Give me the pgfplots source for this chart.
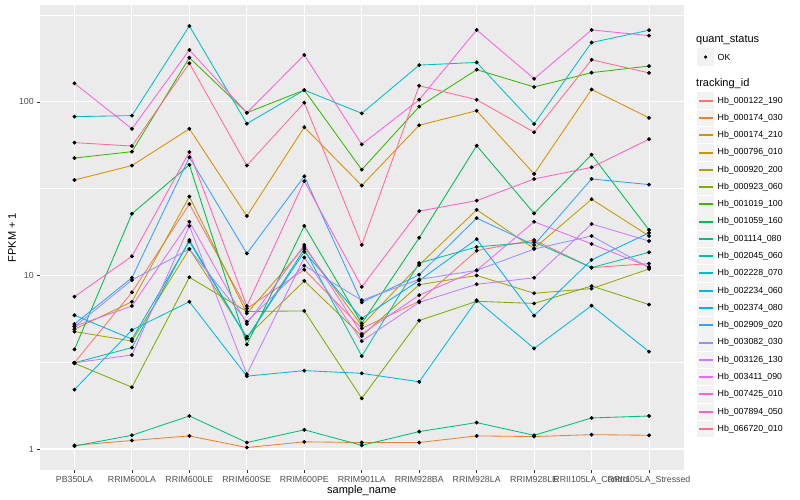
\documentclass[border=0pt]{standalone}
\usepackage{fontspec}
\setmainfont{Liberation Sans}
\usepackage{pgfplots}
\usepackage{pgfplotstable}
\pgfplotsset{compat=1.18}

% ggplot hue palette, 20 levels, legend order
\definecolor{c1}{HTML}{F8766D}
\definecolor{c2}{HTML}{EA8331}
\definecolor{c3}{HTML}{D89000}
\definecolor{c4}{HTML}{C09B00}
\definecolor{c5}{HTML}{A3A500}
\definecolor{c6}{HTML}{7CAE00}
\definecolor{c7}{HTML}{39B600}
\definecolor{c8}{HTML}{00BB4E}
\definecolor{c9}{HTML}{00BF7D}
\definecolor{c10}{HTML}{00C1A3}
\definecolor{c11}{HTML}{00BFC4}
\definecolor{c12}{HTML}{00BAE0}
\definecolor{c13}{HTML}{00B0F6}
\definecolor{c14}{HTML}{35A2FF}
\definecolor{c15}{HTML}{9590FF}
\definecolor{c16}{HTML}{C77CFF}
\definecolor{c17}{HTML}{E76BF3}
\definecolor{c18}{HTML}{FA62DB}
\definecolor{c19}{HTML}{FF62BC}
\definecolor{c20}{HTML}{FF6C91}
\definecolor{panel}{HTML}{EBEBEB}
\definecolor{keyfill}{HTML}{F2F2F2}
\definecolor{grey30}{HTML}{4D4D4D}
\definecolor{grey20}{HTML}{333333}

% rows: samples 0..10, columns: tracking ids in legend order
\pgfplotstableread{
x  s1    s2   s3    s4    s5    s6    s7    s8    s9   s10   s11   s12   s13   s14   s15   s16   s17   s18   s19   s20
0  3.14  1.05 35.5  4.9   4.75  3.12  47.5  3.75  1.04 3.14  82.3  2.2   5.9   5.25  5.07  3.14  5.1   128   7.55  58.3
1  8.0   1.12 43    7.06  4.19  2.27  51.7  22.7  1.2  3.84  83.4  4.85  4.3   9.7   9.4   3.48  6.67  70    12.9  55.7
2  25.8  1.19 70    28.5  14.2  9.76  180   43.4  1.55 16    274   7.06  15.7  48    14.2  19.3  20.4  199.5 51.5  167
3  6.45  1.02 22    6.05  4.44  6.2   86.7  4.0   1.09 4.34  75    2.63  4.34  13.4  5.42  2.7   5.25  86.7  6.67  43
4  10.8  1.1  71.5  14.6  9.3   6.25  117   19.3  1.29 14.2  117   2.83  13.7  37.3  11.4  12.7  15    186.6 35    99
5  4.96  1.09 33    5.14  4.48  1.96  40.7  5.3   1.05 3.43  86    2.73  5.66  7.0   7.2   4.19  4.6   57    8.6   15
6  7.1   1.09 73.4  11.5  8.85  5.5   94    16.5  1.26 11.8  163   2.44  9.36  10.1  9.5   7.0   7.7   103   23.5  124
7  13.9  1.19 89    23.9  10    7.1   153.5 56    1.42 14.6  169   7.2   16.2  21.4  10.7  8.9   10.7  260   27    103
8  16    1.18 38.5  14.3  7.9   6.9   122   22.8  1.2  15.6  74.7  3.8   5.87  15    14.2  9.7   20.4  136   36    66.9
9  11.1  1.21 118   27.5  8.4   8.7   147.5 49.7  1.51 11.1  220   6.7   12.3  36    16.9  19.8  15.2  260   42    175
10 11.7  1.2  81    16.9  10.9  6.8   161   18.3  1.55 13.6  259   3.64  17.6  33.4  11.1  15.8  11.2  241   61    147
}\fpkm

\begin{document}
\begin{tikzpicture}[x=1pt,y=1pt]
\useasboundingbox (0,0) rectangle (800,500);
\begin{axis}[
  at={(40pt,30pt)}, anchor=south west,
  scale only axis, width=643.5pt, height=465pt,
  xmin=-0.6, xmax=10.6,
  ymode=log, ymin=0.757, ymax=362,
  axis background/.style={fill=panel},
  axis line style={draw=none},
  tick pos=left,
  xtick={0,...,10},
  xticklabels={PB350LA,RRIM600LA,RRIM600LE,RRIM600SE,RRIM600PE,RRIM901LA,RRIM928BA,RRIM928LA,RRIM928LE,RRII105LA\_Control,RRII105LA\_Stressed},
  ytick={1,10,100}, yticklabels={1,10,100},
  minor ytick={3.1623,31.623,316.23},
  xmajorgrids, ymajorgrids, yminorgrids,
  major grid style={white, line width=1.07pt},
  minor grid style={white, line width=0.53pt},
  tick align=outside, major tick length=2.75pt, minor tick length=0pt,
  tick style={grey20, line width=0.53pt},
  ticklabel style={font=\fontsize{8.8}{10}\selectfont, text=grey30},
  xlabel={sample\_name}, ylabel={FPKM + 1},
  label style={font=\fontsize{11}{13}\selectfont},
  xlabel style={at={(axis description cs:0.5,-0.0452)}, anchor=center},
  ylabel style={at={(axis description cs:-0.0435,0.5)}, anchor=center},
]
\pgfplotsinvokeforeach{1,...,20}{
  \addplot[color=c#1, line width=0.85pt] table[x=x, y=s#1] {\fpkm};
}
\pgfplotsinvokeforeach{1,...,20}{
  \addplot[only marks, mark=*, mark size=1.75pt, black] table[x=x, y=s#1] {\fpkm};
}
\end{axis}

% legend, ggplot style
\node[anchor=west, inner sep=0, font=\fontsize{11}{13}\selectfont] at (696,460) {quant\_status};
\fill[keyfill] (697,434.4) rectangle (714.3,451.7);
\fill[black] (705.6,443) circle (1.75);
\node[anchor=west, inner sep=0, font=\fontsize{8.8}{10}\selectfont] at (717.5,443) {OK};
\node[anchor=west, inner sep=0, font=\fontsize{11}{13}\selectfont] at (696,416) {tracking\_id};
\foreach \nm [count=\i] in {Hb\_000122\_190,Hb\_000174\_030,Hb\_000174\_210,Hb\_000796\_010,Hb\_000920\_200,Hb\_000923\_060,Hb\_001019\_100,Hb\_001059\_160,Hb\_001114\_080,Hb\_002045\_060,Hb\_002228\_070,Hb\_002234\_060,Hb\_002374\_080,Hb\_002909\_020,Hb\_003082\_030,Hb\_003126\_130,Hb\_003411\_090,Hb\_007425\_010,Hb\_007894\_050,Hb\_066720\_010}{
  \pgfmathsetmacro\yc{399.3-17.28*(\i-1)}
  \fill[keyfill] (697,\yc-8.2) rectangle (714.3,\yc+8.2);
  \draw[color=c\i, line width=2pt] (698.8,\yc) -- (712.5,\yc);
  \node[anchor=west, inner sep=0, font=\fontsize{8.8}{10}\selectfont] at (717.5,\yc) {\nm};
}
\end{tikzpicture}
\end{document}
